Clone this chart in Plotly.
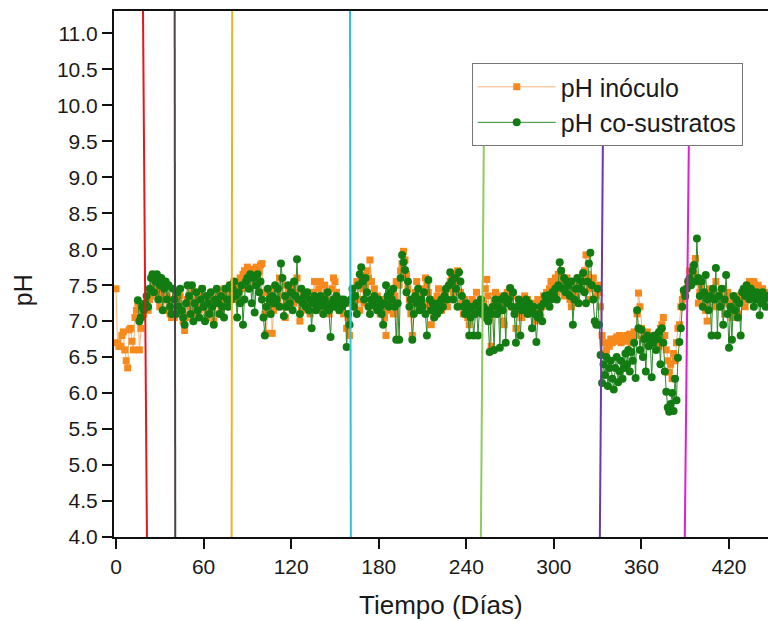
import plotly.graph_objects as go

# ---------------- data ----------------
inoculo_start_day = 0
inoculo_ph = [
    7.45, 6.70, 6.65, 6.65, 6.80, 6.85, 6.60, 6.45, 6.35, 6.88,
    6.90, 6.72, 6.60, 7.05, 7.15, 7.25, 6.60, 6.90, 7.05, 7.10,
    7.20, 7.25, 7.15, 7.30, 7.35, 7.50, 7.45, 7.40, 7.55, 7.35,
    7.20, 7.40, 7.45, 7.30, 7.15, 7.35, 7.30, 7.10, 7.05, 7.20,
    7.05, 7.30, 7.40, 7.25, 7.35, 7.10, 7.00, 6.87, 7.05, 7.30,
    7.35, 7.20, 7.45, 7.30, 7.10, 7.25, 7.40, 7.15, 7.30, 7.45,
    7.35, 7.20, 7.05, 7.15, 7.30, 7.40, 7.20, 7.00, 7.10, 7.30,
    7.40, 7.25, 7.15, 7.35, 7.45, 7.30, 7.20, 7.40, 7.50, 7.35,
    7.45, 7.55, 7.40, 7.30, 7.50, 7.60, 7.45, 7.65, 7.70, 7.55,
    7.75, 7.70, 7.60, 7.72, 7.50, 7.65, 7.75, 7.60, 7.70, 7.78,
    7.80, 7.40, 7.10, 6.83, 7.20, 7.35, 7.45, 6.83, 7.15, 7.30,
    7.45, 7.25, 7.60, 7.35, 7.50, 7.20, 7.05, 7.30, 7.45, 7.20,
    7.35, 7.50, 7.25, 7.40, 7.60, 7.30, 7.00, 7.15, 7.35, 7.25,
    7.40, 7.20, 7.35, 7.10, 7.25, 7.40, 7.55, 7.30, 7.15, 7.45,
    7.55, 7.35, 7.20, 7.50, 7.40, 7.25, 7.10, 7.30, 7.45, 7.60,
    7.55, 7.40, 7.25, 7.15, 7.30, 7.20, 7.10, 7.25, 6.90, 7.05,
    6.80, 7.25, 7.40, 7.20, 7.35, 7.55, 7.30, 7.15, 7.60, 7.45,
    7.25, 7.50, 7.70, 7.60, 7.85, 7.55, 7.30, 7.45, 7.20, 7.35,
    7.25, 7.10, 7.30, 7.20, 7.05, 6.80, 7.15, 7.30, 7.40, 7.25,
    7.10, 7.35, 7.55, 6.75, 7.50, 7.70, 7.80, 7.97, 7.85, 7.65,
    7.45, 7.30, 7.10, 6.80, 7.20, 7.40, 7.55, 7.30, 7.15, 7.35,
    7.45, 7.25, 7.60, 7.50, 7.40, 7.20, 6.95, 7.15, 7.30, 7.20,
    7.35, 7.45, 7.30, 7.15, 7.25, 7.40, 7.30, 7.20, 7.45, 7.55,
    7.60, 7.40, 7.50, 7.65, 7.70, 7.55, 7.40, 7.25, 7.10, 7.30,
    7.20, 7.05, 6.95, 7.15, 7.30, 7.10, 7.25, 7.40, 7.20, 7.15,
    7.30, 7.10, 7.25, 7.45, 7.58, 7.35, 7.05, 6.65, 7.10, 7.25,
    7.40, 7.10, 7.30, 7.20, 7.35, 7.00, 6.95, 7.25, 7.40, 7.30,
    7.45, 7.20, 7.35, 7.15, 6.90, 7.10, 7.30, 7.20, 7.05, 7.25,
    7.35, 7.15, 7.30, 7.20, 7.10, 7.25, 7.15, 7.00, 7.20, 7.30,
    7.15, 7.05, 7.20, 7.35, 7.25, 7.40, 7.30, 7.45, 7.55, 7.35,
    7.50, 7.60, 7.40, 7.65, 7.55, 7.70, 7.50, 7.35, 7.55, 7.60,
    7.45, 7.30, 7.20, 7.40, 7.55, 7.35, 7.25, 7.50, 7.60, 7.45,
    7.55, 7.70, 7.92, 7.65, 7.45, 7.30, 7.55, 7.60, 7.45, 7.35,
    7.50, 7.40, 7.20, 6.80, 6.70, 6.55, 6.60, 6.70, 6.65, 6.75,
    6.70, 6.75, 6.72, 6.78, 6.75, 6.80, 6.70, 6.75, 6.78, 6.72,
    6.80, 6.75, 6.82, 6.70, 6.78, 6.85, 6.80, 7.10, 7.39, 7.20,
    6.90, 6.75, 6.80, 6.70, 6.85, 6.75, 6.80, 6.70, 6.78, 6.72,
    6.80, 6.75, 6.65, 6.90, 6.95, 7.05, 6.80, 6.60, 6.45, 6.29,
    6.40, 6.20, 6.55, 6.45, 6.70, 6.90, 6.95, 7.20, 7.30, 7.40,
    7.35, 7.45, 7.55, 7.70, 7.60, 7.75, 7.65, 7.87, 7.55, 7.25,
    7.40, 7.50, 7.35, 7.20, 7.15, 7.00, 7.30, 7.45, 7.35, 7.20,
    7.40, 7.55, 7.30, 7.20, 7.35, 7.45, 7.25, 7.10, 7.30, 7.40,
    7.25, 7.15, 7.05, 7.30, 7.20, 7.35, 7.10, 7.25, 7.35, 7.40,
    7.30, 7.20, 7.35, 7.45, 7.55, 7.50, 7.40, 7.55, 7.45, 7.35,
    7.50, 7.40, 7.30, 7.45, 7.35, 7.40, 7.30,
]

cosustratos_start_day = 15
cosustratos_ph = [
    7.29, 7.00, 7.05, 7.20, 7.15,
    7.25, 7.35, 7.20, 7.45, 7.60, 7.65, 7.40, 7.55, 7.65, 7.30,
    7.50, 7.60, 7.15, 7.45, 7.55, 7.30, 7.50, 7.20, 7.10, 7.45,
    7.30, 7.10, 7.40, 7.20, 7.45, 7.15, 7.05, 6.95, 7.25, 7.50,
    7.35, 7.10, 7.50, 7.00, 7.25, 7.40, 7.15, 7.05, 7.30, 7.45,
    7.20, 7.00, 7.35, 7.25, 7.10, 7.40, 7.20, 6.95, 7.30, 7.45,
    7.25, 7.10, 7.35, 7.20, 7.05, 7.45, 7.30, 7.20, 7.50, 7.30,
    7.45, 7.55, 7.35, 7.05, 7.40, 7.25, 7.50, 6.95, 7.30, 7.55,
    7.60, 7.45, 7.65, 7.25, 7.60, 7.12, 7.50, 7.65, 7.40, 7.55,
    7.30, 7.05, 6.80, 7.20, 7.45, 7.30, 7.10, 7.35, 7.25, 7.50,
    7.30, 7.45, 7.20, 7.80, 7.60, 7.07, 7.35, 7.20, 7.50, 7.25,
    7.40, 7.15, 7.55, 7.35, 7.86, 7.30, 7.10, 7.45, 7.25, 7.35,
    7.20, 7.40, 7.15, 7.30, 6.90, 7.25, 7.35, 7.15, 7.30, 7.20,
    7.35, 7.25, 7.10, 7.30, 7.20, 7.40, 7.15, 6.78, 7.25, 7.30,
    7.20, 7.35, 7.25, 7.15, 7.30, 7.20, 7.30, 7.25, 6.64, 7.10,
    6.95, 7.30, 7.45, 7.20, 7.35, 7.10, 7.50, 7.65, 7.75, 7.55,
    7.30, 7.60, 7.40, 7.20, 7.10, 7.30, 7.25, 7.35, 7.20, 7.15,
    7.30, 7.20, 7.10, 6.95, 7.25, 7.50, 7.35, 7.20, 7.40, 7.30,
    7.45, 7.20, 6.74, 7.25, 6.74, 7.60, 7.92, 7.82, 7.71, 7.40,
    7.55, 7.20, 7.30, 6.74, 7.10, 7.35, 7.25, 7.45, 7.15, 7.30,
    7.20, 7.40, 7.10, 6.80, 7.57, 7.30, 7.15, 7.25, 7.05, 7.20,
    7.10, 7.25, 7.15, 7.30, 7.20, 7.35, 7.45, 7.30, 7.50, 7.68,
    7.55, 7.30, 7.60, 7.45, 7.20, 7.68, 7.55, 7.35, 7.20, 7.10,
    7.25, 7.15, 6.80, 7.05, 7.20, 6.80, 7.10, 7.25, 6.80, 7.15,
    7.30, 7.10, 7.20, 7.05, 7.15, 7.00, 6.57, 7.10, 7.20, 6.60,
    7.30, 7.10, 7.20, 6.63, 7.30, 7.15, 7.35, 6.70, 7.25, 7.30,
    7.46, 7.20, 7.40, 7.10, 6.70, 7.20, 7.30, 6.80, 7.15, 7.25,
    7.20, 7.30, 7.10, 7.25, 7.15, 6.90, 7.20, 7.10, 6.71, 7.05,
    7.10, 7.20, 7.00, 7.25, 7.35, 7.30, 7.36, 7.20, 7.30, 7.40,
    7.35, 7.45, 7.30, 7.50, 7.82, 7.70, 7.45, 7.60, 7.40, 7.55,
    7.50, 7.35, 7.55, 6.95, 7.30, 7.45, 7.60, 7.25, 7.45, 7.55,
    7.67, 7.40, 7.25, 7.55, 7.80, 7.95, 7.50, 7.30, 7.00, 6.95,
    7.45, 6.95, 6.53, 6.14, 6.40, 6.25, 6.50, 6.10, 6.35, 6.45,
    6.20, 6.05, 6.35, 6.50, 6.15, 6.30, 6.45, 6.20, 6.35, 6.55,
    6.40, 6.60, 6.30, 6.57, 6.45, 6.70, 6.21, 7.15, 6.90, 6.60,
    6.88, 6.50, 6.75, 6.30, 6.80, 6.65, 6.75, 6.22, 6.70, 6.80,
    6.60, 6.75, 6.85, 6.40, 6.90, 6.70, 6.30, 6.02, 5.80, 5.74,
    5.85, 6.00, 5.75, 6.20, 5.90, 6.49, 6.71, 6.90, 7.20, 7.43,
    7.35, 7.45, 7.55, 7.60, 7.50, 7.70, 7.78, 7.55, 8.15, 7.60,
    7.35, 7.55, 7.20, 7.40, 7.64, 7.30, 7.15, 7.35, 6.80, 7.45,
    7.30, 7.74, 6.80, 7.35, 7.20, 7.45, 6.95, 7.30, 7.64, 7.10,
    6.63, 7.20, 6.74, 7.35, 7.15, 7.30, 7.05, 7.25, 6.80, 7.40,
    7.45, 7.35, 7.50, 7.40, 7.30, 7.45, 7.35, 7.20, 7.30, 7.40,
    7.35, 7.08, 7.25, 7.40, 7.30, 7.20, 7.35,
]

# vertical event lines: day at top end, day at bottom end, pH at top end
event_day_top = [18.5, 40.2, 79.6, 160.3, 252.0, 333.6, 392.5]
event_day_bottom = [21.2, 40.6, 79.2, 160.9, 250.0, 331.5, 389.7]
event_ph_top = [11.31, 11.31, 11.31, 11.31, 9.55, 9.55, 9.55]
event_colors = ["#e8151b", "#4b4245", "#f0b12a", "#2cc3d9", "#8fcb5e", "#6b3aa6", "#e01fd0"]

x_ticks = [0, 60, 120, 180, 240, 300, 360, 420]
y_ticks = [4.0, 4.5, 5.0, 5.5, 6.0, 6.5, 7.0, 7.5, 8.0, 8.5, 9.0, 9.5, 10.0, 10.5, 11.0]

dias_inoculo = [inoculo_start_day + i for i in range(len(inoculo_ph))]
dias_cosus = [cosustratos_start_day + i for i in range(len(cosustratos_ph))]

FONT = "Liberation Sans, Arial, sans-serif"

fig = go.Figure()
fig.add_trace(go.Scatter(
    x=dias_inoculo, y=inoculo_ph, name="pH inóculo", mode="lines+markers",
    line=dict(color="#f6b27a", width=1),
    marker=dict(symbol="square", size=7, color="#f7891c"),
))
fig.add_trace(go.Scatter(
    x=dias_cosus, y=cosustratos_ph, name="pH co-sustratos", mode="lines+markers",
    line=dict(color="#2f8a2f", width=1),
    marker=dict(symbol="circle", size=8, color="#127c12"),
))

for xt, xb, yt, c in zip(event_day_top, event_day_bottom, event_ph_top, event_colors):
    fig.add_shape(type="line", xref="x", yref="y", x0=xt, y0=yt, x1=xb, y1=4.0,
                  line=dict(color=c, width=2), layer="above")

fig.update_layout(
    width=768, height=621,
    margin=dict(l=114, r=0, t=11, b=84),
    paper_bgcolor="white", plot_bgcolor="white",
    font=dict(family=FONT, color="#1a1a1a", size=21),
    showlegend=True,
    legend=dict(
        x=0.547, y=0.901, xanchor="left", yanchor="top",
        bgcolor="white", bordercolor="#777777", borderwidth=1,
        font=dict(family=FONT, size=25, color="#1a1a1a"),
        itemwidth=78, tracegroupgap=0,
    ),
    xaxis=dict(
        range=[-1.37, 446.7], tickvals=x_ticks, ticks="outside", ticklen=10,
        tickwidth=1.5, tickcolor="#111111", showline=True, linecolor="#111111",
        linewidth=2, mirror=True, showgrid=False, zeroline=False,
        tickfont=dict(family=FONT, size=21, color="#1a1a1a"),
    ),
    yaxis=dict(
        range=[4.0, 11.31], tickvals=y_ticks, tickformat=".1f", ticks="outside",
        ticklen=10, tickwidth=1.5, tickcolor="#111111", showline=True,
        linecolor="#111111", linewidth=2, mirror=False, showgrid=False,
        zeroline=False, tickfont=dict(family=FONT, size=21, color="#1a1a1a"),
    ),
    annotations=[
        dict(text="Tiempo (Días)", xref="paper", yref="paper", x=0.5, y=-0.13,
             xanchor="center", yanchor="middle", showarrow=False,
             font=dict(family=FONT, size=26, color="#1a1a1a")),
        dict(text="pH", xref="paper", yref="paper", x=-0.14, y=0.47,
             xanchor="center", yanchor="middle", showarrow=False, textangle=-90,
             font=dict(family=FONT, size=25, color="#1a1a1a")),
    ],
)

fig.write_html(
    "out.html",
    config={"displayModeBar": False},
    post_script="document.body.style.margin='0';document.body.style.padding='0';"
                "document.body.style.overflow='hidden';"
                "document.documentElement.style.overflow='hidden';",
)
